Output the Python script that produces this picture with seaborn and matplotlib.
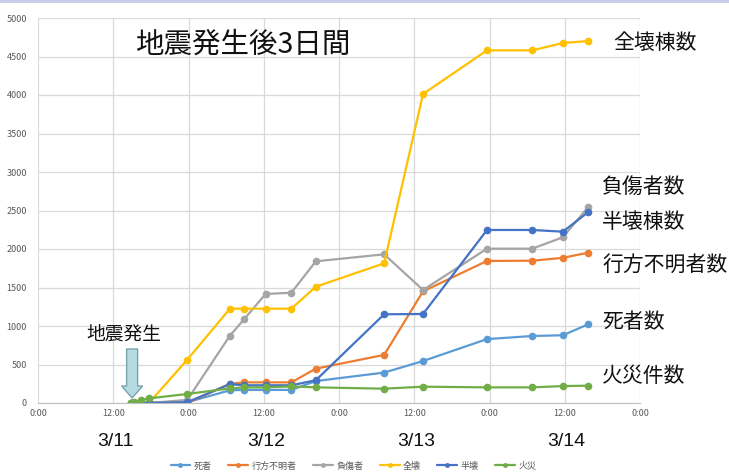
import matplotlib
matplotlib.use("Agg")
import matplotlib.pyplot as plt
from matplotlib.lines import Line2D
from matplotlib.patches import Polygon
from matplotlib.transforms import IdentityTransform
import seaborn as sns
import pandas as pd

# ---- data (hours since 3/11 0:00) ----
times = [14.8, 15.3, 16.5, 17.7, 23.8, 30.6, 32.9, 36.3, 40.4, 44.3, 55.2, 61.4, 71.6, 78.8, 83.7, 87.7]
deaths   = [0, 0, 0, 5, 10, 165, 170, 170, 170, 285, 395, 545, 830, 870, 880, 1020]
missing  = [0, 0, 0, 0, 0, 250, 268, 268, 268, 446, 625, 1450, 1845, 1848, 1885, 1952]
injured  = [0, 0, 0, 0, 40, 874, 1091, 1416, 1432, 1840, 1931, 1468, 2004, 2004, 2152, 2541]
total_collapse = [0, 0, 0, 0, 562, 1225, 1225, 1225, 1225, 1510, 1814, 4013, 4580, 4580, 4675, 4701]
half_collapse  = [0, 0, 0, 0, 10, 245, 230, 230, 230, 295, 1152, 1156, 2247, 2247, 2225, 2477]
fires    = [0, 10, 40, 60, 117, 190, 203, 203, 215, 203, 186, 212, 203, 203, 220, 225]

quake_time = 14.77  # 3/11 14:46

series_names = ["死者", "行方不明者", "負傷者", "全壊", "半壊", "火災"]
series_vals = [deaths, missing, injured, total_collapse, half_collapse, fires]
colors = ["#5B9BD5", "#ED7D31", "#A5A5A5", "#FFC000", "#4472C4", "#70AD47"]

xtick_pos = [0, 12, 24, 36, 48, 60, 72, 84, 96]
xtick_labels = ["0:00", "12:00", "0:00", "12:00", "0:00", "12:00", "0:00", "12:00", "0:00"]
ytick_pos = list(range(0, 5001, 500))
day_labels = ["3/11", "3/12", "3/13", "3/14"]
day_centers = [12, 36, 60, 84]
right_labels = ["全壊棟数", "負傷者数", "半壊棟数", "行方不明者数", "死者数", "火災件数"]

rows = []
for name, vals in zip(series_names, series_vals):
    for t, v in zip(times, vals):
        rows.append({"time": t, "value": v, "series": name})
df = pd.DataFrame(rows)

sns.set_style("white")
plt.rcParams["font.family"] = ["Noto Sans CJK JP", "DejaVu Sans"]

W, H = 729, 476
fig = plt.figure(figsize=(W / 100, H / 100), dpi=100)
ax = fig.add_axes([38 / W, 1 - 403 / H, (640 - 38) / W, (403 - 18) / H])

sns.lineplot(data=df, x="time", y="value", hue="series", hue_order=series_names,
             palette=colors, marker="o", markersize=5.5, markeredgewidth=0,
             linewidth=1.6, ax=ax, legend=False, sort=False)

ax.set_xlim(0, 96)
ax.set_ylim(0, 5000)
ax.set_xticks(xtick_pos)
ax.set_xticklabels(xtick_labels)
ax.set_yticks(ytick_pos)
ax.set_xlabel("")
ax.set_ylabel("")
ax.grid(True, color="#d9d9d9", linewidth=0.9)
ax.set_axisbelow(True)
for s in ["top", "right", "left"]:
    ax.spines[s].set_visible(False)
ax.spines["bottom"].set_color("#bfbfbf")
ax.tick_params(axis="both", length=0, labelsize=6.5, labelcolor="#595959", pad=4)
ax.tick_params(axis="y", pad=8)

def fx(px):
    return px / W

def fy(py):
    return 1 - py / H

# title
fig.text(fx(135), fy(45), "地震発生後3日間", fontsize=20.5, va="center", ha="left",
         color="#111111")

# right-hand labels
right_pos = [(613, 43), (602, 187), (602, 222), (602, 265), (602, 322), (602, 376)]
for lab, (px, py) in zip(right_labels, right_pos):
    fig.text(fx(px), fy(py), lab, fontsize=15, va="center", ha="left", color="#111111")

# day labels (centred under 12:00 of each day)
for lab, xc in zip(day_labels, day_centers):
    px = ax.transData.transform((xc, 0))[0] + 2
    fig.text(px / W, fy(441), lab, fontsize=14, va="center", ha="center",
             color="#111111", family=["Liberation Sans", "DejaVu Sans"])

# earthquake annotation
fig.text(fx(86), fy(334), "地震発生", fontsize=13.5, va="center", ha="left", color="#111111")
cx = ax.transData.transform((quake_time, 0))[0] + 1.5
# display coordinates (origin bottom-left)
def dy(py):
    return H - py
arrow_pts = [(cx - 5.5, dy(349)), (cx + 5.5, dy(349)), (cx + 5.5, dy(386)),
             (cx + 10.5, dy(386)), (cx, dy(398)), (cx - 10.5, dy(386)), (cx - 5.5, dy(386))]
fig.add_artist(Polygon(arrow_pts, closed=True, transform=IdentityTransform(),
                       facecolor="#b3dbe0", edgecolor="#7aa3ad", lw=1.0, zorder=5))

# legend
handles = [Line2D([0], [0], color=c, marker="o", markersize=3.5, linewidth=1.6, markeredgewidth=0)
           for c in colors]
leg = fig.legend(handles, series_names, loc="center", bbox_to_anchor=(0.485, fy(466)),
                 ncol=6, frameon=False, fontsize=6.5, handlelength=2.2, columnspacing=1.8,
                 handletextpad=0.4)
for t in leg.get_texts():
    t.set_color("#595959")

# top border band
fig.add_artist(plt.Rectangle((0, 1 - 3 / H), 1, 3 / H, transform=fig.transFigure,
                             color="#c8cdea", lw=0))

fig.savefig("out.png", dpi=100)
